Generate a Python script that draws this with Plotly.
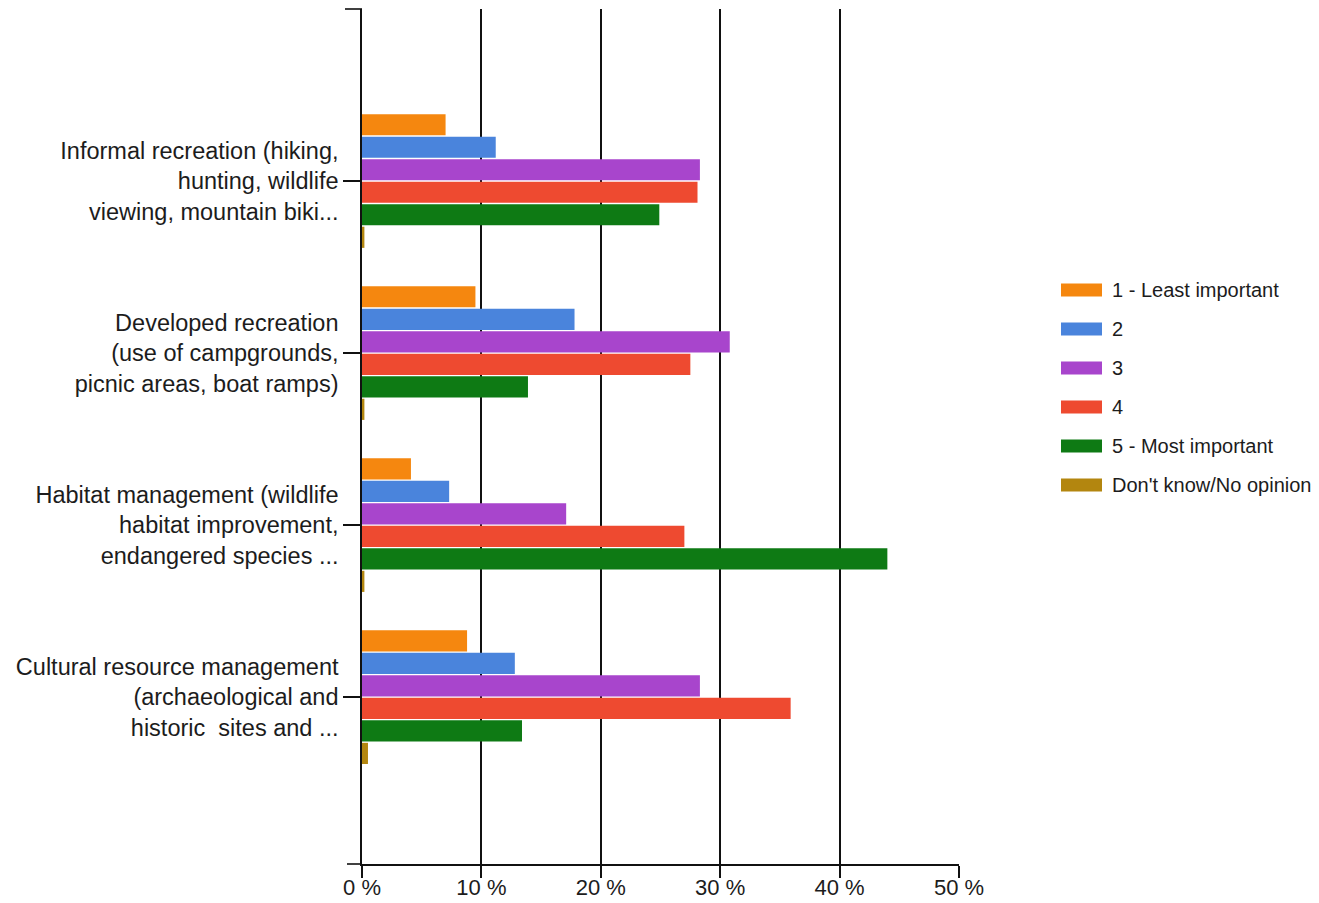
import plotly.graph_objects as go

# Survey categories (y axis) and rating series (percent of respondents)
categories = [
    "Informal recreation (hiking,<br>hunting, wildlife<br>viewing, mountain biki...",
    "Developed recreation<br>(use of campgrounds,<br>picnic areas, boat ramps)",
    "Habitat management (wildlife<br>habitat improvement,<br>endangered species ...",
    "Cultural resource management<br>(archaeological and<br>historic  sites and ...",
]
series_names = ["1 - Least important", "2", "3", "4", "5 - Most important", "Don't know/No opinion"]
least_important = [7.0, 9.5, 4.1, 8.8]
rating_2 = [11.2, 17.8, 7.3, 12.8]
rating_3 = [28.3, 30.8, 17.1, 28.3]
rating_4 = [28.1, 27.5, 27.0, 35.9]
most_important = [24.9, 13.9, 44.0, 13.4]
no_opinion = [0.2, 0.2, 0.2, 0.5]
x_ticks = [0, 10, 20, 30, 40, 50]
x_tick_labels = ["0 %", "10 %", "20 %", "30 %", "40 %", "50 %"]

series_values = [least_important, rating_2, rating_3, rating_4, most_important, no_opinion]
colors = ["#F5870F", "#4A84DC", "#A845CC", "#EE4A30", "#0E7A14", "#B3860F"]

W, H = 1319, 903
M_L, M_R, M_T, M_B = 362, 360, 9, 39
PW, PH = W - M_L - M_R, H - M_T - M_B
FONT = "Liberation Sans, Arial, sans-serif"
TXT = "#1c1c1c"

fig = go.Figure()
for name, vals, col in zip(series_names, series_values, colors):
    fig.add_trace(go.Bar(
        y=categories, x=vals, name=name, orientation="h",
        marker=dict(color=col, line=dict(width=0)),
        showlegend=False,
    ))

# Axis end ticks on the category axis (top edge and bottom-left extension)
shapes = [
    dict(type="line", xref="paper", yref="paper", x0=-17 / PW, x1=0, y0=1, y1=1,
         line=dict(color="#111", width=1.6)),
    dict(type="line", xref="paper", yref="paper", x0=-15 / PW, x1=0, y0=0, y1=0,
         line=dict(color="#111", width=1.6)),
]

# Legend drawn as swatches with text labels
annotations = []
leg_y0, leg_step = 290, 39
for i, (name, col) in enumerate(zip(series_names, colors)):
    cy = leg_y0 + i * leg_step
    py = (H - M_B - cy) / PH
    shapes.append(dict(
        type="rect", xref="paper", yref="paper",
        x0=(1061 - M_L) / PW, x1=(1102 - M_L) / PW,
        y0=py - 6.5 / PH, y1=py + 6.5 / PH,
        fillcolor=col, line=dict(width=0),
    ))
    annotations.append(dict(
        text=name, xref="paper", yref="paper",
        x=(1110 - M_L) / PW, y=py, xanchor="left", yanchor="middle",
        showarrow=False, font=dict(family=FONT, size=20, color=TXT),
    ))

fig.update_layout(
    width=W, height=H,
    margin=dict(l=M_L, r=M_R, t=M_T, b=M_B, pad=0),
    paper_bgcolor="white", plot_bgcolor="white",
    barmode="group", bargap=0.215, bargroupgap=0.06,
    font=dict(family=FONT, color=TXT),
    shapes=shapes, annotations=annotations,
    showlegend=False,
)
fig.update_xaxes(
    range=[0, 50], tickvals=x_ticks, ticktext=x_tick_labels, automargin=False,
    showgrid=True, gridcolor="#111", gridwidth=1.6,
    zeroline=False, showline=True, linecolor="#111", linewidth=1.6,
    ticks="outside", ticklen=12, tickwidth=1.6, tickcolor="#111",
    ticklabelstandoff=-9,
    tickfont=dict(family=FONT, size=22, color=TXT),
)
fig.update_yaxes(
    type="category", categoryorder="array", categoryarray=categories,
    range=[3.97, -1.0], automargin=False,
    showgrid=False, zeroline=False,
    showline=True, linecolor="#111", linewidth=1.6,
    ticks="outside", ticklen=17, tickwidth=1.6, tickcolor="#111",
    tickfont=dict(family=FONT, size=23.5, color=TXT),
)

fig.write_html("out.html")
